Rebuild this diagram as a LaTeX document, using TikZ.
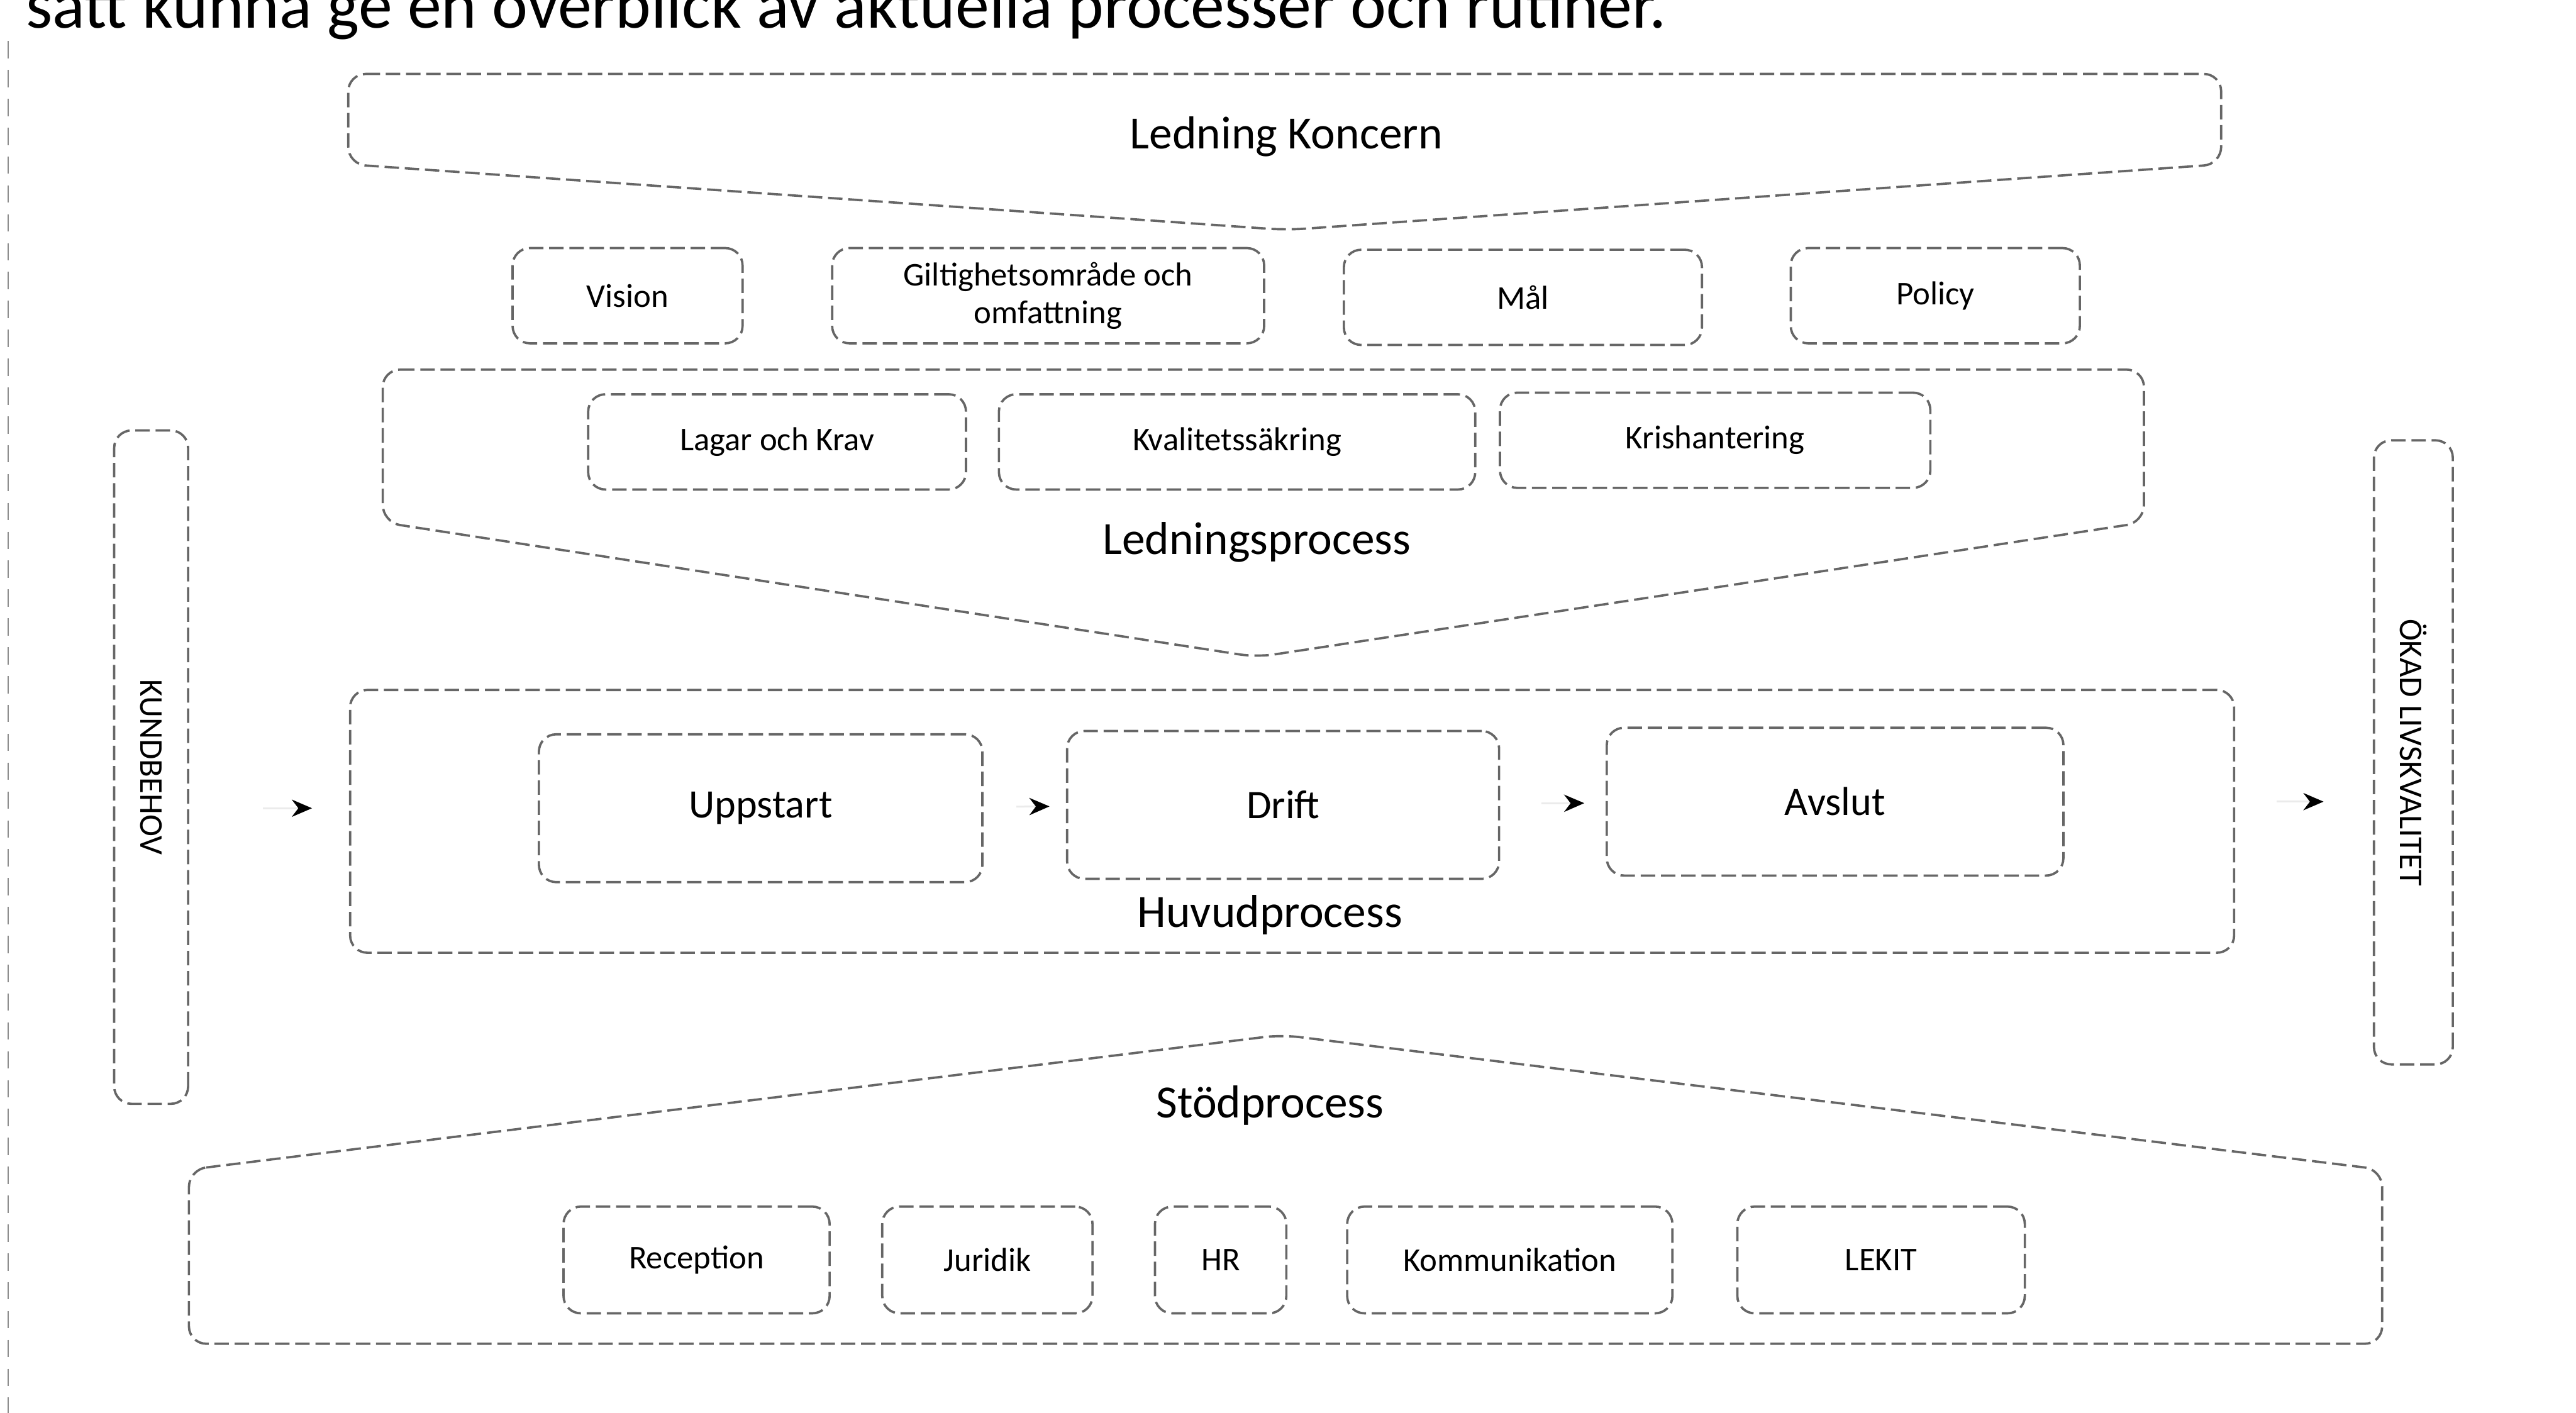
\documentclass[tikz,border=0pt]{standalone}
\usepackage{fontspec}
\setmainfont{Carlito}
\usetikzlibrary{arrows.meta}

\begin{document}
\begin{tikzpicture}[x=0.02cm,y=-0.02cm,line width=0.8pt,
    outline/.style={draw=black!60,dash pattern=on 5pt off 2pt,rounded corners=6pt},
    sub box/.style={outline,align=center,minimum height=1.16cm,font=\fontsize{11.5}{13}\selectfont},
    low box/.style={sub box,minimum height=1.3cm},
    phase box/.style={outline,minimum height=1.8cm,font=\fontsize{14}{17}\selectfont},
    side box/.style={outline,rotate=-90,font=\fontsize{11.5}{13}\selectfont},
    head/.style={font=\fontsize{16}{19}\selectfont},
    flow/.style={draw=black!8,line width=0.6pt,-{Stealth[length=7pt,width=6pt,color=black]}}]

  \useasboundingbox (0,0) rectangle (1568,860);

  % page edge and the cut-off line of text above the figure
  \draw[black!45,dash pattern=on 6pt off 4pt,line width=0.6pt] (5,25) -- (5,860);
  \node[anchor=base west,inner sep=0pt,font=\fontsize{23.5}{28}\selectfont] (intro) at (15,17)
    {sätt kunna ge en överblick av aktuella processer och rutiner.};

  % Ledning Koncern
  \draw[outline] (212,45) -- (1352,45) -- (1352,100) -- (783,140) -- (212,100) -- cycle;
  \node[head] (koncern) at (783,83) {Ledning Koncern};

  \node[sub box,minimum width=2.8cm]  (vision)    at (382,180)  {Vision};
  \node[sub box,minimum width=5.26cm] (giltighet) at (638,180)  {Giltighetsområde och\\omfattning};
  \node[sub box,minimum width=4.36cm] (mal)       at (927,181)  {Mål};
  \node[sub box,minimum width=3.52cm] (policy)    at (1178,180) {Policy};

  % Ledningsprocess
  \draw[outline] (233,225) -- (1305,225) -- (1305,318) -- (765,400) -- (233,318) -- cycle;
  \node[head] (ledproc) at (765,330) {Ledningsprocess};

  \node[sub box,minimum width=4.6cm]  (lagar)  at (473,269)  {Lagar och Krav};
  \node[sub box,minimum width=5.8cm]  (kval)   at (753,269)  {Kvalitetssäkring};
  \node[sub box,minimum width=5.24cm] (kris)   at (1044,268) {Krishantering};

  % Huvudprocess
  \node[outline,minimum width=22.94cm,minimum height=3.2cm] (huvud) at (786.5,500) {};
  \node[head] (huvudlabel) at (773,557) {Huvudprocess};

  \node[phase box,minimum width=5.4cm]  (uppstart) at (463,492)  {Uppstart};
  \node[phase box,minimum width=5.26cm] (drift)    at (781,490)  {Drift};
  \node[phase box,minimum width=5.56cm] (avslut)   at (1117,488) {Avslut};

  \node[side box,minimum width=8.2cm,minimum height=0.9cm]  (kund) at (92,467)   {KUNDBEHOV};
  \node[side box,minimum width=7.6cm,minimum height=0.96cm] (okad) at (1469,458) {ÖKAD LIVSKVALITET};

  \draw[flow,shorten <=0.9cm,shorten >=0.45cm] (kund.north |- uppstart) -- (huvud.west |- uppstart);
  \draw[flow,shorten <=0.4cm,shorten >=0.2cm] (uppstart) -- (drift);
  \draw[flow,shorten <=0.5cm,shorten >=0.26cm] (drift) -- (avslut);
  \draw[flow,shorten <=0.5cm,shorten >=0.6cm] (huvud.east |- avslut) -- (okad.south |- avslut);

  % Stödprocess
  \draw[outline] (115,712) -- (780,630) -- (1450,712) -- (1450,818) -- (115,818) -- cycle;
  \node[head] (stod) at (773,673) {Stödprocess};

  \node[low box,minimum width=3.24cm] (reception) at (424,767)  {Reception};
  \node[low box,minimum width=2.56cm] (juridik)   at (601,767)  {Juridik};
  \node[low box,minimum width=1.6cm]  (hr)        at (743,767)  {HR};
  \node[low box,minimum width=3.96cm] (kommunik)  at (919,767)  {Kommunikation};
  \node[low box,minimum width=3.5cm]  (lekit)     at (1145,767) {LEKIT};
\end{tikzpicture}
\end{document}
